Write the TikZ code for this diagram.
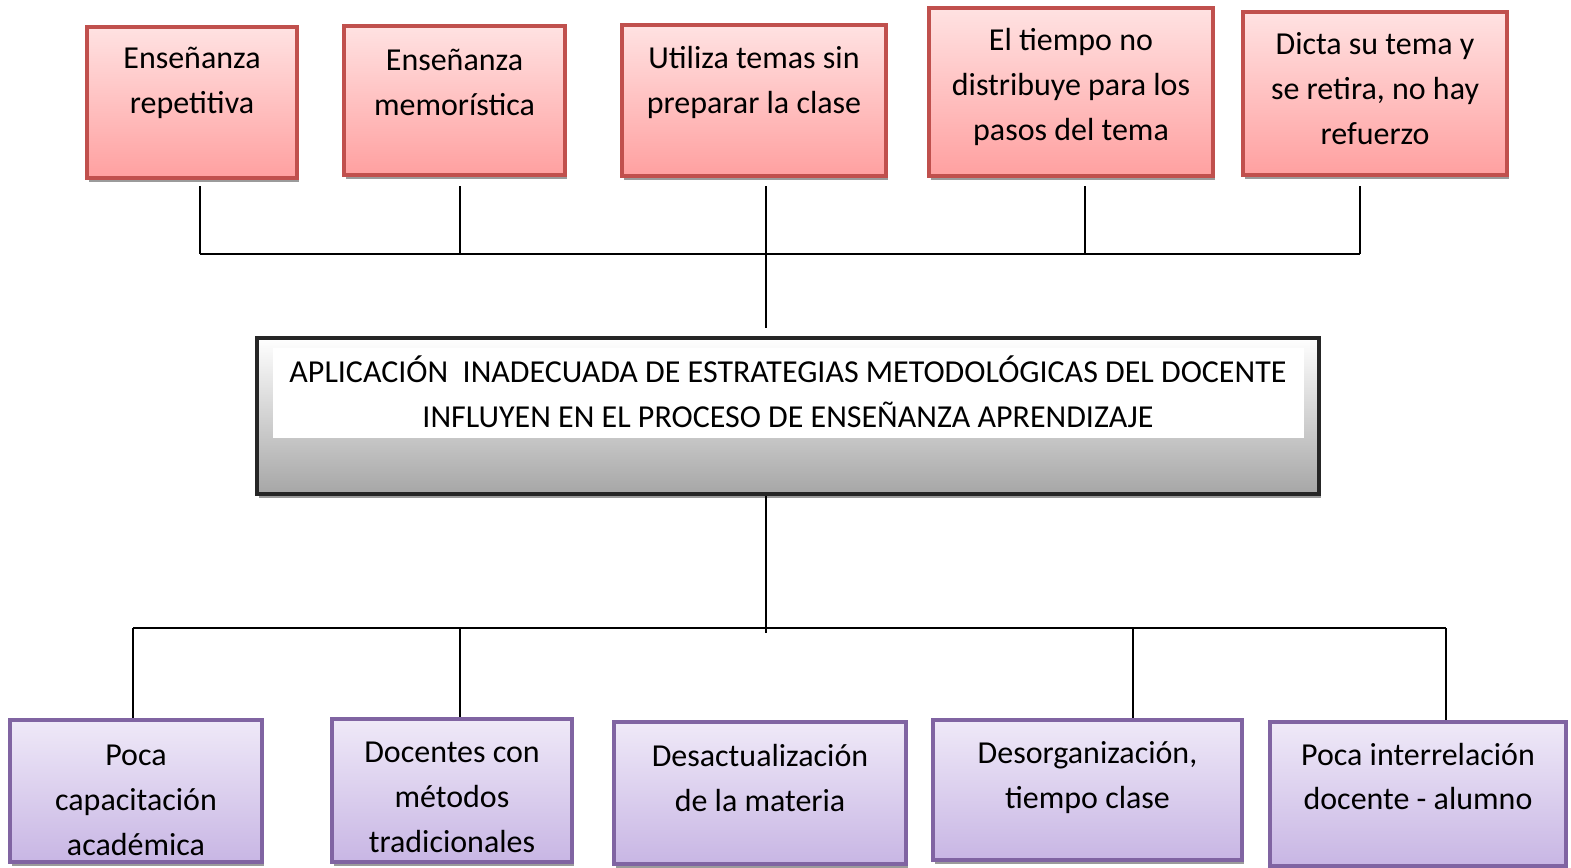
\documentclass[tikz,border=0pt]{standalone}
\usepackage{fontspec}
\setmainfont{Carlito}
\usetikzlibrary{shadows}

\definecolor{rojoborde}{RGB}{192,80,77}
\definecolor{rojoarriba}{RGB}{255,226,226}
\definecolor{rojoabajo}{RGB}{255,160,160}
\definecolor{lilaborde}{RGB}{128,100,162}
\definecolor{lilaarriba}{RGB}{239,233,248}
\definecolor{lilaabajo}{RGB}{200,182,228}
\definecolor{grisabajo}{RGB}{166,166,166}
\definecolor{sombra}{RGB}{155,155,155}

\begin{document}
\begin{tikzpicture}[x=0.1mm,y=-0.1mm,
    sombreado/.style={general shadow={fill=sombra,shadow xshift=0.5pt,shadow yshift=-1pt}},
    causa/.style={draw=rojoborde,line width=0.9pt,top color=rojoarriba,bottom color=rojoabajo,sombreado},
    efecto/.style={draw=lilaborde,line width=0.9pt,top color=lilaarriba,bottom color=lilaabajo,sombreado},
    problema/.style={draw=black!85,line width=0.9pt,top color=white,bottom color=grisabajo,sombreado},
    texto/.style={align=center,inner sep=0pt,font=\fontsize{9.1}{12.8}\selectfont},
    linea/.style={line width=0.7pt}]
  \useasboundingbox (0,0) rectangle (1571,868);

  % causas (arriba)
  \node[causa,minimum width=21mm,minimum height=15.1mm] (rep) at (192,102.5) {};
  \node[texto] (rept) at (192,82.5) {Enseñanza\\repetitiva};
  \node[causa,minimum width=22.1mm,minimum height=14.9mm] (mem) at (454.5,100.5) {};
  \node[texto] (memt) at (454.5,82.5) {Enseñanza\\memorística};
  \node[causa,minimum width=26.4mm,minimum height=15.1mm] (tem) at (754,100.5) {};
  \node[texto] (temt) at (754,82) {Utiliza temas sin\\preparar la clase};
  \node[causa,minimum width=28.4mm,minimum height=16.8mm] (tie) at (1071,92) {};
  \node[texto] (tiet) at (1071,87) {El tiempo no\\distribuye para los\\pasos del tema};
  \node[causa,minimum width=26.4mm,minimum height=16.3mm] (dic) at (1375,93.5) {};
  \node[texto] (dict) at (1375,89) {Dicta su tema y\\se retira, no hay\\refuerzo};

  % problema central
  \node[problema,minimum width=106.2mm,minimum height=15.6mm] (apl) at (788,416) {};
  \fill[white] (273,348) rectangle (1304,438);
  \node[texto] (aplt) at (788,391.5) {APLICACIÓN\ \ INADECUADA DE ESTRATEGIAS METODOLÓGICAS DEL DOCENTE\\INFLUYEN EN EL PROCESO DE ENSEÑANZA APRENDIZAJE};

  % efectos (abajo)
  \node[efecto,minimum width=25.2mm,minimum height=14.2mm] (cap) at (136,791) {};
  \node[efecto,minimum width=24mm,minimum height=14.3mm] (tra) at (452,790.5) {};
  \begin{scope}
    \clip (12,722) rectangle (260,857);
    \node[texto] (capt) at (136,800) {Poca\\capacitación\\académica};
  \end{scope}
  \begin{scope}
    \clip (334,721) rectangle (570,852);
    \node[texto] (trat) at (452,797) {Docentes con\\métodos\\tradicionales};
  \end{scope}
  \node[efecto,minimum width=29.2mm,minimum height=14.2mm] (des) at (760,793) {};
  \node[texto] (dest) at (760,778) {Desactualización\\de la materia};
  \node[efecto,minimum width=30.9mm,minimum height=14mm] (org) at (1087.5,790) {};
  \node[texto] (orgt) at (1087.5,778) {Desorganización,\\tiempo clase};
  \node[efecto,minimum width=29.6mm,minimum height=14.4mm] (int) at (1418,794) {};
  \node[texto] (intt) at (1418,776.5) {Poca interrelación\\docente - alumno};

  % conectores de arriba
  \coordinate (t1) at (200,186);
  \coordinate (t2) at (460,186);
  \coordinate (t3) at (766,186);
  \coordinate (t4) at (1085,186);
  \coordinate (t5) at (1360,186);
  \coordinate (hb) at (766,254);
  \foreach \t in {t1,t2,t4,t5}
    \draw[linea] (\t) -- (\t |- hb);
  \draw[linea] (t1 |- hb) -- (t5 |- hb);
  \draw[linea,shorten >=0.8mm] (t3) -- (t3 |- apl.north);

  % conectores de abajo
  \coordinate (b1) at (133,628);
  \coordinate (b2) at (460,628);
  \coordinate (b3) at (766,633);
  \coordinate (b4) at (1133,628);
  \coordinate (b5) at (1446,628);
  \draw[linea] (apl.south -| b3) -- (b3);
  \draw[linea] (b1) -- (b5);
  \draw[linea] (b1) -- (b1 |- cap.north);
  \draw[linea] (b2) -- (b2 |- tra.north);
  \draw[linea] (b4) -- (b4 |- org.north);
  \draw[linea] (b5) -- (b5 |- int.north);
\end{tikzpicture}
\end{document}
